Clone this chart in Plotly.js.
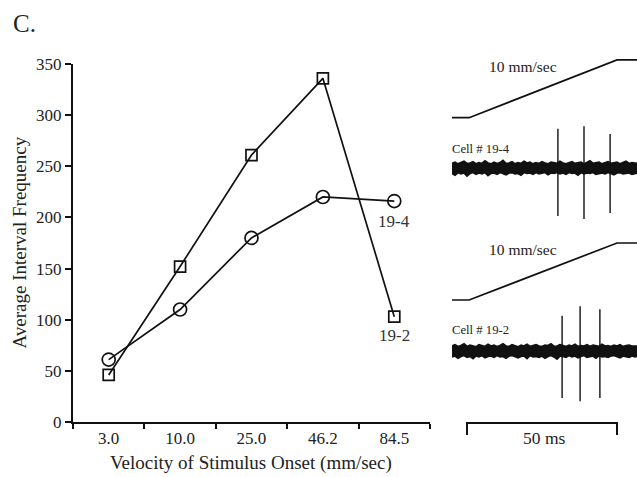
<!DOCTYPE html>
<html>
<head>
<meta charset="utf-8">
<script src="https://cdn.plot.ly/plotly-3.0.1.min.js"></script>
<style>html,body{margin:0;padding:0;background:#fff;}#chart{width:637px;height:477px;}</style>
</head>
<body>
<div id="chart"></div>
<script>
// ---- main chart data ----
var velocities = ['3.0', '10.0', '25.0', '46.2', '84.5'];
var cell192 = [46, 152, 261, 336, 103];   // squares
var cell194 = [61, 110, 180, 220, 216];   // circles
var yTicks = [0, 50, 100, 150, 200, 250, 300, 350];

// ---- recording panel data ----
var rampT = [0, 5.7, 55, 61.7];          // ms
var rampPos = [0, 0, 0.5, 0.5];          // mm (10 mm/sec)
var noiseT = [0,1,2,3,4,5,6,7,8,9,10,11,12,13,14,15,16,17,18,19,20,21,22,23,24,25,26,27,28,29,30,31,32,33,34,35,36,37,38,39,40,41,42,43,44,45,46,47,48,49,50,51,52,53,54,55,56,57,58,59,60,61,61.7];
var noiseUpTop = [0.10,0.13,0.09,0.12,0.15,0.10,0.11,0.14,0.09,0.12,0.10,0.16,0.11,0.09,0.13,0.10,0.12,0.17,0.10,0.11,0.14,0.09,0.12,0.10,0.15,0.11,0.13,0.09,0.12,0.10,0.14,0.11,0.09,0.13,0.12,0.10,0.15,0.11,0.09,0.12,0.14,0.10,0.11,0.13,0.09,0.12,0.16,0.10,0.11,0.13,0.09,0.12,0.14,0.10,0.11,0.13,0.09,0.12,0.15,0.10,0.12,0.11,0.10];
var noiseLoTop = [-0.12,-0.16,-0.10,-0.13,-0.11,-0.18,-0.12,-0.10,-0.14,-0.11,-0.13,-0.10,-0.17,-0.12,-0.11,-0.14,-0.10,-0.12,-0.15,-0.11,-0.10,-0.13,-0.12,-0.16,-0.10,-0.12,-0.11,-0.14,-0.10,-0.13,-0.12,-0.10,-0.15,-0.11,-0.12,-0.10,-0.13,-0.11,-0.14,-0.10,-0.12,-0.11,-0.16,-0.10,-0.13,-0.11,-0.12,-0.10,-0.14,-0.12,-0.11,-0.13,-0.10,-0.12,-0.15,-0.11,-0.10,-0.13,-0.12,-0.11,-0.14,-0.12,-0.11];
var noiseUpBot = [0.11,0.14,0.10,0.12,0.16,0.10,0.13,0.11,0.09,0.14,0.12,0.10,0.15,0.11,0.13,0.10,0.12,0.16,0.11,0.10,0.14,0.12,0.09,0.13,0.11,0.15,0.10,0.12,0.14,0.11,0.10,0.13,0.12,0.16,0.10,0.11,0.14,0.12,0.10,0.13,0.11,0.15,0.10,0.12,0.11,0.14,0.10,0.13,0.12,0.10,0.15,0.11,0.12,0.10,0.13,0.11,0.14,0.10,0.12,0.13,0.11,0.12,0.11];
var noiseLoBot = [-0.13,-0.11,-0.16,-0.12,-0.10,-0.14,-0.12,-0.17,-0.11,-0.13,-0.10,-0.15,-0.12,-0.11,-0.14,-0.10,-0.13,-0.12,-0.16,-0.11,-0.10,-0.13,-0.15,-0.12,-0.11,-0.17,-0.10,-0.13,-0.12,-0.14,-0.11,-0.16,-0.12,-0.10,-0.13,-0.18,-0.11,-0.12,-0.14,-0.10,-0.13,-0.11,-0.15,-0.12,-0.10,-0.14,-0.12,-0.11,-0.16,-0.10,-0.13,-0.12,-0.14,-0.11,-0.10,-0.13,-0.15,-0.11,-0.12,-0.14,-0.11,-0.13,-0.12];
var spikeTTop = [35.3, 44.0, 52.7];
var spikeMaxTop = [0.89, 0.95, 0.77];
var spikeMinTop = [-1.09, -1.16, -1.02];
var spikeTBot = [36.7, 42.7, 49.3];
var spikeMaxBot = [0.80, 1.02, 0.95];
var spikeMinBot = [-1.07, -1.14, -1.07];
var scaleBarStart = 5, scaleBarMs = 50;

var ink = '#111';
var serif = 'Liberation Serif, Times New Roman, serif';

function spikeTrace(ts, mx, mn, yax) {
  var x = [], y = [];
  for (var i = 0; i < ts.length; i++) { x.push(ts[i], ts[i], null); y.push(mx[i], mn[i], null); }
  return {x: x, y: y, xaxis: 'x2', yaxis: yax, mode: 'lines', line: {color: ink, width: 1.4}, hoverinfo: 'skip', showlegend: false};
}
function bandTraces(up, lo, yax) {
  return [
    {x: noiseT, y: lo, xaxis: 'x2', yaxis: yax, mode: 'lines', line: {color: ink, width: 2}, hoverinfo: 'skip', showlegend: false},
    {x: noiseT, y: up, xaxis: 'x2', yaxis: yax, mode: 'lines', fill: 'tonexty', fillcolor: ink, line: {color: ink, width: 2}, hoverinfo: 'skip', showlegend: false}
  ];
}

var traces = [
  {x: velocities, y: cell192, mode: 'lines+markers', line: {color: ink, width: 1.7},
   marker: {symbol: 'square-open', size: 11, color: ink, line: {width: 1.7, color: ink}}, showlegend: false},
  {x: velocities, y: cell194, mode: 'lines+markers', line: {color: ink, width: 1.7},
   marker: {symbol: 'circle-open', size: 13, color: ink, line: {width: 1.7, color: ink}}, showlegend: false},
  {x: rampT, y: rampPos, xaxis: 'x2', yaxis: 'y2', mode: 'lines', line: {color: ink, width: 1.7}, hoverinfo: 'skip', showlegend: false},
  {x: rampT, y: rampPos, xaxis: 'x2', yaxis: 'y4', mode: 'lines', line: {color: ink, width: 1.7}, hoverinfo: 'skip', showlegend: false}
].concat(bandTraces(noiseUpTop, noiseLoTop, 'y3'))
 .concat(bandTraces(noiseUpBot, noiseLoBot, 'y5'))
 .concat([spikeTrace(spikeTTop, spikeMaxTop, spikeMinTop, 'y3'), spikeTrace(spikeTBot, spikeMaxBot, spikeMinBot, 'y5')]);

function hidden(domain, range, anchor) {
  return {domain: domain, range: range, visible: false, fixedrange: true, anchor: anchor};
}

var layout = {
  width: 637, height: 477,
  margin: {l: 0, r: 0, t: 0, b: 0},
  paper_bgcolor: '#fff', plot_bgcolor: 'rgba(0,0,0,0)',
  font: {family: serif, color: '#222'},
  xaxis: {
    type: 'category', domain: [0.1146, 0.675], range: [-0.5, 4.5], anchor: 'y',
    tickson: 'boundaries', ticks: 'outside', ticklen: 5, tickwidth: 2, tickcolor: ink,
    showline: true, linewidth: 2, linecolor: ink, showgrid: false, zeroline: false,
    tickfont: {family: serif, size: 17, color: '#222'}
  },
  yaxis: {
    domain: [0.1153, 0.8658], range: [0, 350], anchor: 'x',
    tickmode: 'array', tickvals: yTicks, ticktext: yTicks.map(String),
    ticks: 'outside', ticklen: 6, tickwidth: 2, tickcolor: ink,
    showline: true, linewidth: 2, linecolor: ink, showgrid: false, zeroline: false,
    tickfont: {family: serif, size: 17, color: '#222'}
  },
  xaxis2: hidden([0.7096, 1], [0, 61.67], 'y2'),
  yaxis2: hidden([0.7411, 0.8864], [-0.05, 0.55], 'x2'),
  yaxis3: hidden([0.5371, 0.7585], [-1.2, 1.2], 'x2'),
  yaxis4: hidden([0.3591, 0.5025], [-0.05, 0.55], 'x2'),
  yaxis5: hidden([0.1535, 0.3748], [-1.2, 1.2], 'x2'),
  shapes: [
    {type: 'path', xref: 'x2', yref: 'paper',
     path: 'M' + scaleBarStart + ',0.088 L' + scaleBarStart + ',0.1132 L' + (scaleBarStart + scaleBarMs) + ',0.1132 L' + (scaleBarStart + scaleBarMs) + ',0.088',
     line: {color: ink, width: 2}}
  ],
  annotations: [
    {text: 'C.', xref: 'paper', yref: 'paper', x: 0.017, y: 0.9497, xanchor: 'left', yanchor: 'middle', showarrow: false, font: {size: 25, family: serif, color: '#222'}},
    {text: 'Average Interval Frequency', xref: 'paper', yref: 'paper', x: 0.0314, y: 0.4916, textangle: -90, xanchor: 'center', yanchor: 'middle', showarrow: false, font: {size: 19, family: serif, color: '#222'}},
    {text: 'Velocity of Stimulus Onset (mm/sec)', xref: 'paper', yref: 'paper', x: 0.394, y: 0.0294, xanchor: 'center', yanchor: 'middle', showarrow: false, font: {size: 19, family: serif, color: '#222'}},
    {text: '19-4', xref: 'x', yref: 'y', x: 4, y: 196, xanchor: 'center', yanchor: 'middle', showarrow: false, font: {size: 17, family: serif, color: '#333'}},
    {text: '19-2', xref: 'x', yref: 'y', x: 4, y: 85, xanchor: 'center', yanchor: 'middle', showarrow: false, font: {size: 17, family: serif, color: '#333'}},
    {text: '10 mm/sec', xref: 'x2', yref: 'paper', x: 23.7, y: 0.8602, xanchor: 'center', yanchor: 'middle', showarrow: false, font: {size: 15.5, family: serif, color: '#222'}},
    {text: '10 mm/sec', xref: 'x2', yref: 'paper', x: 23.7, y: 0.4759, xanchor: 'center', yanchor: 'middle', showarrow: false, font: {size: 15.5, family: serif, color: '#222'}},
    {text: 'Cell # 19-4', xref: 'paper', yref: 'paper', x: 0.706, y: 0.6876, xanchor: 'left', yanchor: 'middle', showarrow: false, font: {size: 12.7, family: serif, color: '#222'}},
    {text: 'Cell # 19-2', xref: 'paper', yref: 'paper', x: 0.706, y: 0.3082, xanchor: 'left', yanchor: 'middle', showarrow: false, font: {size: 12.7, family: serif, color: '#222'}},
    {text: '50 ms', xref: 'x2', yref: 'paper', x: 30.5, y: 0.0818, xanchor: 'center', yanchor: 'middle', showarrow: false, font: {size: 17.5, family: serif, color: '#222'}}
  ]
};

Plotly.newPlot('chart', traces, layout, {displayModeBar: false, staticPlot: true});
</script>
</body>
</html>
